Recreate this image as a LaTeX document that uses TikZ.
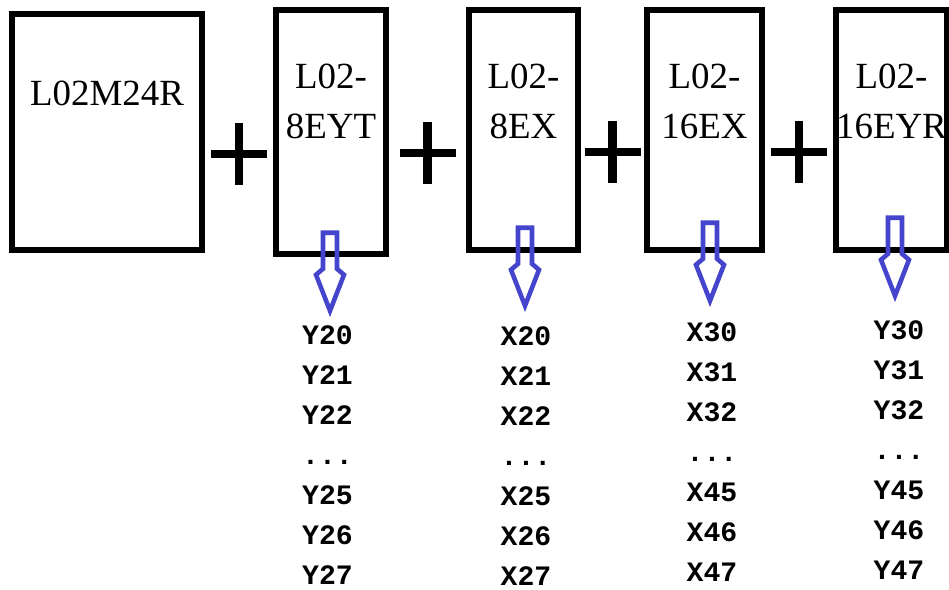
\documentclass[tikz,border=0pt]{standalone}
\usepackage{fontspec}
\setmainfont{Liberation Serif}
\setmonofont{Liberation Mono}
\usetikzlibrary{calc}
\definecolor{ArrowBlue}{RGB}{68, 68, 204}

\begin{document}
\begin{tikzpicture}[x=0.02cm, y=-0.02cm,
    module/.style={draw, line width=3.2pt, minimum height=4.8cm, inner sep=0pt},
    modname/.style={font=\fontsize{21}{28.5}\selectfont, align=center},
    pinlist/.style={font=\ttfamily\bfseries\fontsize{16}{22.76}\selectfont, align=center},
    plusbar/.style={line width=5pt},
    pics/outarrow/.style={code={
        \draw[ArrowBlue, line width=2.6pt, line join=miter]
          (-7,0) -- (7,0) -- (7,36) -- (14,42) -- (0,78) -- (-14,42) -- (-7,36) -- cycle;}}]
    \useasboundingbox (0,0) rectangle (949,590);

    % Base unit
    \node[module, minimum width=3.8cm, minimum height=4.72cm] (m24r) at (107,132) {};
    \node[modname] (m24rname) at (107,93) {L02M24R};

    % Expansion modules
    \node[module, minimum width=2.2cm, minimum height=4.88cm] (e8yt) at (331,132) {};
    \node[module, minimum width=2.18cm] (e8x) at (523.5,130) {};
    \node[module, minimum width=2.3cm] (e16x) at (704.5,130) {};
    \node[module, minimum width=2.22cm] (e16yr) at (891.5,130) {};
    \node[modname] (e8ytname) at (331,101) {L02-\\8EYT};
    \node[modname] (e8xname) at (523.5,101) {L02-\\8EX};
    \node[modname] (e16xname) at (704.5,101) {L02-\\16EX};
    \node[modname] (e16yrname) at (891.5,101) {L02-\\16EYR};

    % Plus signs
    \foreach \a/\b in {m24r/e8yt, e8yt/e8x, e8x/e16x, e16x/e16yr} {
        \coordinate (p) at ($(\a.east)!0.5!(\b.west)+(0,22)$);
        \draw[plusbar] (p) +(-28,0) -- +(28,0) +(0,-31) -- +(0,31);
    }

    % Output arrows
    \path (e8yt.south) ++(-1,-24) pic {outarrow};
    \path (e8x.south) ++(1.5,-25) pic {outarrow};
    \path (e16x.south) ++(5.5,-30) pic {outarrow};
    \path (e16yr.south) ++(3.5,-35) pic {outarrow};

    % I/O addresses
    \node[pinlist] (y20) at (327.5,455) {Y20\\Y21\\Y22\\...\\Y25\\Y26\\Y27};
    \node[pinlist] (x20) at (526,456) {X20\\X21\\X22\\...\\X25\\X26\\X27};
    \node[pinlist] (x30) at (712,452) {X30\\X31\\X32\\...\\X45\\X46\\X47};
    \node[pinlist] (y30) at (899,450) {Y30\\Y31\\Y32\\...\\Y45\\Y46\\Y47};
\end{tikzpicture}
\end{document}
